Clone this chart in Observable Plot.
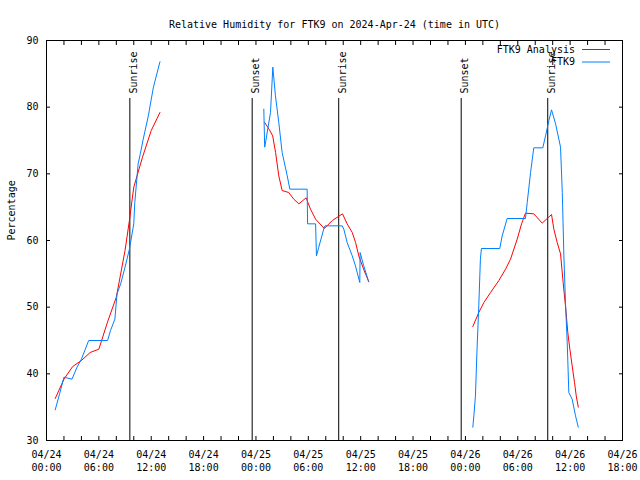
<!DOCTYPE html>
<html>
<head>
<meta charset="utf-8">
<script src="https://cdn.jsdelivr.net/npm/d3@7"></script>
<script src="https://cdn.jsdelivr.net/npm/@observablehq/plot@0.6"></script>
<style>
  body { margin: 0; background: #fff; }
</style>
</head>
<body>
<div id="chart"></div>
<script>
// ---- Text ----
const titleText = "Relative Humidity for FTK9 on 2024-Apr-24 (time in UTC)";
const yLabelText = "Percentage";
const seriesNames = ["FTK9 Analysis", "FTK9"];
const seriesColors = ["#ff0000", "#0080ff"];

// ---- Axis ----
const xDomain = ["24 00:00", "26 18:00"];
const yDomain = [30, 90];
const yTicks = [30, 40, 50, 60, 70, 80, 90];

// ---- Sun events ----
const sunTimes = ["24 09:33", "24 23:34", "25 09:29", "25 23:31", "26 09:26"];
const sunLabels = ["Sunrise", "Sunset", "Sunrise", "Sunset", "Sunrise"];

// ---- FTK9 Analysis (red) ----  null = gap between segments
const analysisTimes = [
  "24 01:00","24 02:00","24 03:00","24 04:00","24 05:00","24 06:00","24 07:00","24 08:00",
  "24 09:00","24 09:30","24 10:00","24 11:00","24 12:00","24 13:00",
  null,
  "25 01:00","25 01:30","25 01:55","25 02:15","25 02:37","25 03:00","25 03:45","25 04:20",
  "25 04:55","25 05:45","25 06:15","25 06:50","25 07:50","25 08:45","25 09:55","25 10:27",
  "25 11:02","25 11:25","25 11:47","25 12:20","25 12:56",
  null,
  "26 00:51","26 01:32","26 02:07","26 02:53","26 03:50","26 04:36","26 05:10","26 05:56",
  "26 06:26","26 06:53","26 07:50","26 08:48","26 09:52","26 10:08","26 10:31","26 10:54",
  "26 11:12","26 11:28","26 11:44","26 11:58","26 12:14","26 12:30","26 12:42","26 12:56"
];
const analysisValues = [
  36.3, 39.2, 41.1, 42.0, 43.2, 43.7, 47.8, 51.5,
  58.5, 63.0, 68.0, 72.5, 76.5, 79.2,
  null,
  77.7, 76.7, 75.7, 73.2, 69.7, 67.5, 67.2, 66.2,
  65.5, 66.4, 64.7, 63.2, 61.8, 63.0, 64.0, 62.5,
  61.2, 59.7, 57.7, 55.7, 53.8,
  null,
  47.1, 49.2, 50.7, 52.2, 54.0, 55.7, 57.2, 60.2,
  62.5, 64.1, 64.0, 62.6, 63.9, 61.7, 59.7, 58.0,
  53.7, 50.2, 46.2, 43.7, 41.2, 38.7, 36.7, 35.0
];

// ---- FTK9 observations (blue) ----
const obsTimes = [
  "24 01:00","24 01:30","24 02:00","24 02:55","24 03:30","24 04:00","24 04:50","24 07:00",
  "24 07:20","24 07:50","24 08:05","24 08:30","24 09:00","24 09:30","24 10:00","24 10:07",
  "24 10:30","24 10:45","24 11:05","24 11:40","24 12:15","24 13:00",
  null,
  "25 00:54","25 01:00","25 01:08","25 01:40","25 01:56","25 02:14","25 02:37","25 03:00",
  "25 03:35","25 03:53","25 05:52","25 05:55","25 06:50","25 06:56","25 07:12","25 07:47",
  "25 07:55","25 09:53","25 10:04","25 10:27","25 11:02","25 11:24","25 11:54","25 11:56",
  "25 12:21","25 12:52",
  null,
  "26 00:51","26 00:58","26 01:09","26 01:20","26 01:32","26 01:43","26 01:50","26 03:56",
  "26 04:13","26 04:47","26 06:53","26 07:05","26 07:28","26 07:50","26 08:52","26 09:11",
  "26 09:34","26 09:52","26 10:20","26 10:54","26 11:06","26 11:17","26 11:28","26 11:40",
  "26 11:51","26 12:14","26 12:37","26 12:56"
];
const obsValues = [
  34.6, 37.0, 39.5, 39.2, 41.0, 42.2, 45.0, 45.0,
  46.5, 48.2, 52.0, 53.5, 56.0, 58.7, 62.5, 65.7,
  71.5, 73.0, 75.2, 78.7, 83.0, 86.8,
  null,
  79.7, 74.0, 75.0, 79.2, 86.0, 81.7, 77.7, 73.2,
  69.7, 67.7, 67.7, 62.5, 62.5, 57.7, 59.0, 61.8,
  62.2, 62.2, 61.7, 59.7, 57.7, 56.2, 53.7, 58.2,
  56.2, 54.0,
  null,
  32.0, 33.7, 36.7, 43.7, 50.2, 57.2, 58.8, 58.8,
  60.7, 63.3, 63.3, 65.7, 70.2, 73.9, 73.9, 75.7,
  78.0, 79.6, 77.5, 74.0, 67.2, 57.7, 50.7, 44.7,
  37.2, 36.2, 33.7, 32.0
];

// ---- Build tables ----
const parse = s => s == null ? null : new Date(`2024-04-${s.slice(0, 2)}T${s.slice(3)}:00Z`);
const analysis = analysisTimes.map((t, i) => ({time: parse(t), value: analysisValues[i]}));
const obs = obsTimes.map((t, i) => ({time: parse(t), value: obsValues[i]}));
const sun = sunTimes.map((t, i) => ({time: parse(t), label: sunLabels[i]}));
const fmt = d3.utcFormat("%m/%d\n%H:%M");

// legend drawn as a custom render mark, anchored to the plot's top-right
const legendMark = (index, scales, values, dimensions) => {
  const right = dimensions.width - dimensions.marginRight;
  const top = dimensions.marginTop;
  const g = d3.create("svg:g");
  seriesNames.forEach((name, i) => {
    const y = top + 9.5 + i * 12.5;
    g.append("text")
      .attr("x", right - 47).attr("y", y).attr("dy", "0.32em")
      .attr("text-anchor", "end").attr("fill", "black").text(name);
    g.append("line")
      .attr("x1", right - 40).attr("x2", right - 12)
      .attr("y1", y).attr("y2", y)
      .attr("stroke", seriesColors[i]).attr("stroke-width", 1);
  });
  return g.node();
};

const chart = Plot.plot({
  width: 640,
  height: 480,
  marginLeft: 46,
  marginRight: 18,
  marginTop: 40,
  marginBottom: 40,
  style: {fontFamily: "'DejaVu Sans Mono', monospace", fontSize: "10px", background: "white", color: "black"},
  x: {type: "utc", domain: xDomain.map(parse)},
  y: {domain: yDomain},
  marks: [
    Plot.frame({stroke: "black"}),
    // inward minor ticks (every 2 h), bottom and top
    Plot.axisX({anchor: "bottom", ticks: d3.utcHour.every(2), tickSize: -4, tickFormat: () => "", label: null}),
    Plot.axisX({anchor: "top", ticks: d3.utcHour.every(2), tickSize: -4, tickFormat: () => "", label: null}),
    // labels every 6 h
    Plot.axisX({anchor: "bottom", ticks: d3.utcHour.every(6), tickSize: 0, tickPadding: 9, tickFormat: fmt, lineHeight: 1.25, label: null}),
    // y ticks
    Plot.axisY({anchor: "left", ticks: yTicks, tickSize: -4, tickFormat: () => "", label: null}),
    Plot.axisY({anchor: "right", ticks: yTicks, tickSize: -4, tickFormat: () => "", label: null}),
    Plot.axisY({anchor: "left", ticks: yTicks, tickSize: 0, tickPadding: 8, label: null}),
    // sunrise / sunset
    Plot.ruleX(sun, {x: "time", stroke: "black", strokeWidth: 1, insetTop: 58}),
    Plot.text(sun, {x: "time", text: "label", frameAnchor: "top", rotate: -90, textAnchor: "start", dy: 53, fill: "black"}),
    // data
    Plot.line(analysis, {x: "time", y: "value", stroke: seriesColors[0], strokeWidth: 1}),
    Plot.line(obs, {x: "time", y: "value", stroke: seriesColors[1], strokeWidth: 1}),
    // title & y label
    Plot.text([titleText], {frameAnchor: "top", dy: -20, fill: "black"}),
    Plot.text([yLabelText], {frameAnchor: "left", rotate: -90, dx: -35, fill: "black"}),
    legendMark
  ]
});
document.getElementById("chart").appendChild(chart);
</script>
</body>
</html>
